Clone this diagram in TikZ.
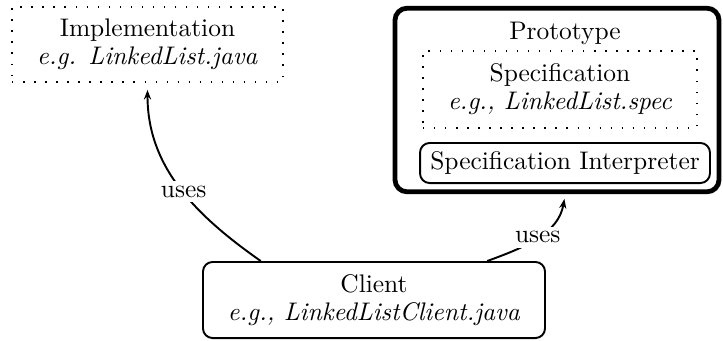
\documentclass[tikz,border=0pt]{standalone}
\usetikzlibrary{arrows.meta}
\begin{document}
\begin{tikzpicture}[x=0.41667pt,y=-0.41667pt,
  every node/.style={font=\fontsize{10.6pt}{11.6pt}\selectfont},
  dotbox/.style={draw, line width=0.6pt, loosely dotted, align=center, inner sep=0pt},
  roundbox/.style={draw, thick, rounded corners=4pt, align=center, inner sep=0pt},
  outerbox/.style={draw, line width=2pt, rounded corners=5pt, inner sep=0pt},
  link/.style={thick, -{Stealth[length=4pt,width=3pt]}},
  lbl/.style={fill=white, inner sep=2pt}]
\useasboundingbox (0,0) rectangle (723,340);

% implementation module
\node[dotbox, minimum width=112.9pt, minimum height=31.25pt] (impl) at (147.5,44.5)
  {Implementation\\ \textit{e.g. LinkedList.java}};

% prototype with its specification and interpreter
\node[outerbox, minimum width=135pt, minimum height=76.5pt] (proto) at (557,100) {};
\node (protolbl) at (565,33) {Prototype};
\node[dotbox, minimum width=114.2pt, minimum height=32.1pt] (spec) at (560,89.5)
  {Specification\\ \textit{e.g., LinkedList.spec}};
\node[roundbox, minimum width=120.8pt, minimum height=16.7pt] (interp) at (565,163)
  {Specification Interpreter};

% client
\node[roundbox, minimum width=142.5pt, minimum height=31.7pt] (client) at (374,300)
  {Client\\ \textit{e.g., LinkedListClient.java}};

% usage relations
\draw[link, shorten >=3pt] (client.161) to[out=145, in=-90]
  node[lbl, pos=0.46] {uses} (impl.south);
\draw[link, shorten >=2pt] (client.19) to[out=20, in=-100]
  node[lbl, pos=0.5] {uses} (proto.-85);
\end{tikzpicture}
\end{document}
